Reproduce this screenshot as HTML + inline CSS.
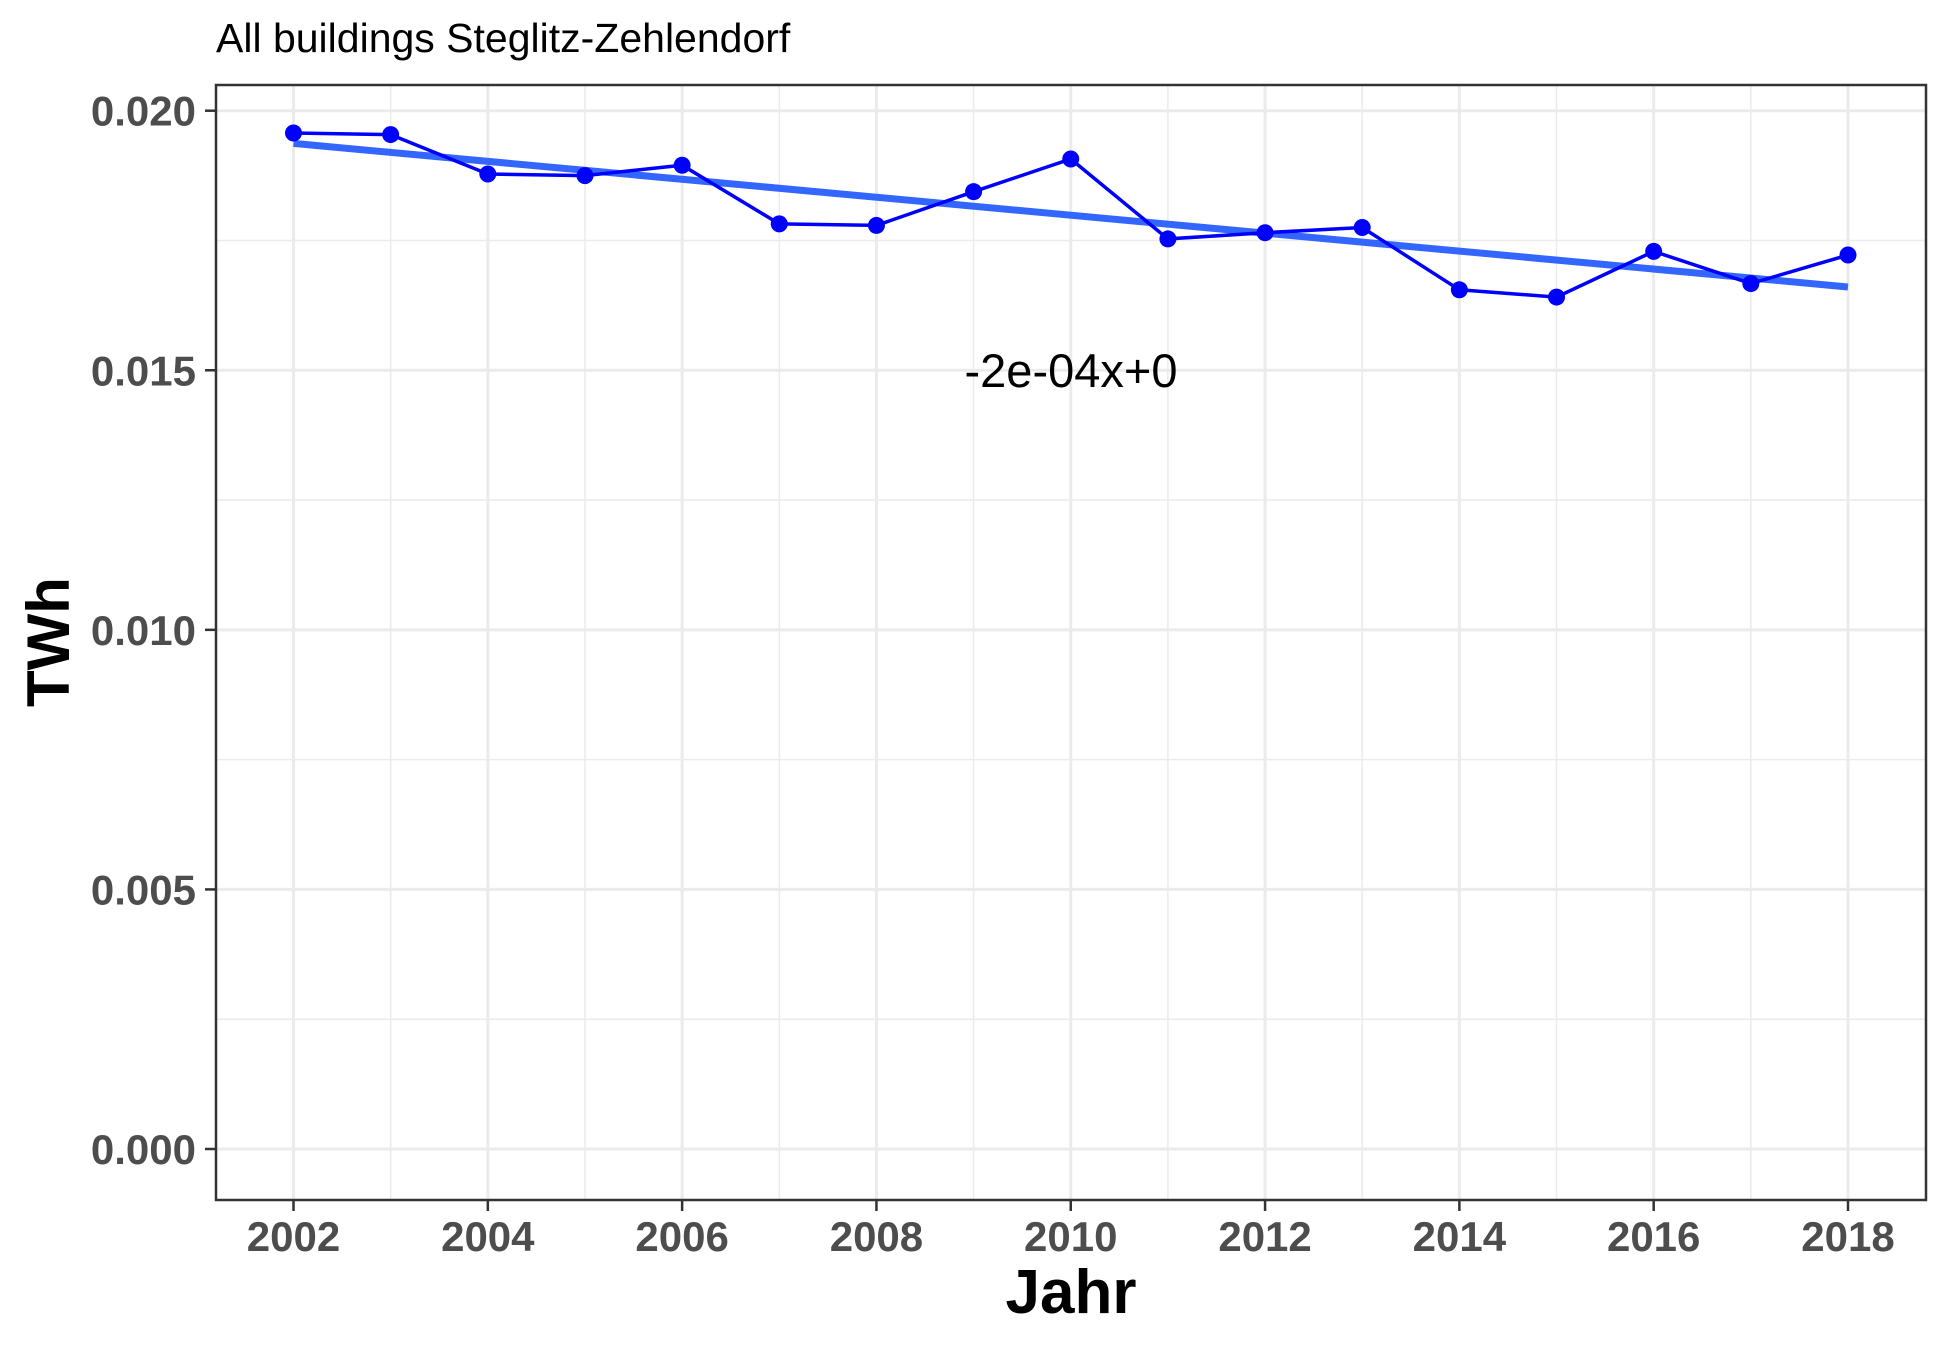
<!DOCTYPE html>
<html><head><meta charset="utf-8"><style>
html,body{margin:0;padding:0;background:#fff;}
svg{display:block;font-family:"Liberation Sans",sans-serif;}
</style></head><body>
<svg id="chart" width="1950" height="1349" viewBox="0 0 1950 1349" xmlns="http://www.w3.org/2000/svg">
<rect width="1950" height="1349" fill="#fff"/>
<g id="grid"></g>
<g id="trend"></g>
<g id="series"></g>
<g id="axes"></g>
<text x="216" y="52" font-size="41" fill="#000">All buildings Steglitz-Zehlendorf</text>
<text x="1071" y="387" font-size="47" text-anchor="middle" fill="#000">-2e-04x+0</text>
<text x="1071" y="1313" font-size="62" font-weight="bold" text-anchor="middle" fill="#000">Jahr</text>
<text transform="translate(69,642) rotate(-90)" font-size="60" font-weight="bold" text-anchor="middle" fill="#000">TWh</text>
</svg>
<script>
const years = [2002,2003,2004,2005,2006,2007,2008,2009,2010,2011,2012,2013,2014,2015,2016,2017,2018];
const values = [0.01957,0.01954,0.01878,0.01875,0.01895,0.01782,0.01779,0.01844,0.01907,0.01753,0.01765,0.01775,0.01655,0.01641,0.01729,0.01667,0.01722];
const yTicks = [0,0.005,0.010,0.015,0.020];
const yTickLabels = ["0.000","0.005","0.010","0.015","0.020"];
const xTicks = [2002,2004,2006,2008,2010,2012,2014,2016,2018];
const xTickLabels = ["2002","2004","2006","2008","2010","2012","2014","2016","2018"];

const NS="http://www.w3.org/2000/svg";
const L=216,R=1926,T=85,B=1200;
function xs(v){return 293.5+(v-2002)*(1848-293.5)/16;}
function ys(v){return 1149-v*(1149-110.7)/0.02;}
function mk(parent,tag,attrs){const e=document.createElementNS(NS,tag);for(const k in attrs)e.setAttribute(k,attrs[k]);document.getElementById(parent).appendChild(e);return e;}

for(let i=0;i<yTicks.length-1;i++){const v=(yTicks[i]+yTicks[i+1])/2;
 const e=mk('grid','line',{x1:L,x2:R,y1:ys(v),y2:ys(v),stroke:'#ebebeb','stroke-width':1.5});
 
 }
for(let i=0;i<xTicks.length-1;i++){const v=(xTicks[i]+xTicks[i+1])/2;
 const e=mk('grid','line',{x1:xs(v),x2:xs(v),y1:T,y2:B,stroke:'#ebebeb','stroke-width':1.5});
 
 }
yTicks.forEach((v,i)=>{
 const g=mk('grid','line',{x1:L,x2:R,y1:ys(v),y2:ys(v),stroke:'#ebebeb','stroke-width':3});
 
 
 const t=mk('axes','line',{x1:L-11,x2:L,y1:ys(v),y2:ys(v),stroke:'#333','stroke-width':2.5});
 
 
 const tx=mk('axes','text',{x:L-20,y:ys(v)+15,'font-size':42,'font-weight':'bold',fill:'#4d4d4d','text-anchor':'end'});
 tx.textContent=yTickLabels[i];
 
 
});
xTicks.forEach((v,i)=>{
 const g=mk('grid','line',{x1:xs(v),x2:xs(v),y1:T,y2:B,stroke:'#ebebeb','stroke-width':3});
 
 
 const t=mk('axes','line',{x1:xs(v),x2:xs(v),y1:B,y2:B+11,stroke:'#333','stroke-width':2.5});
 
 
 const tx=mk('axes','text',{x:xs(v),y:1251,'font-size':42,'font-weight':'bold',fill:'#4d4d4d','text-anchor':'middle'});
 tx.textContent=xTickLabels[i];
 
 
});
const border=mk('axes','rect',{x:L,y:T,width:R-L,height:B-T,fill:'none',stroke:'#333','stroke-width':2.5});



const n=years.length;let mx=0,my=0;years.forEach((x,i)=>{mx+=x;my+=values[i];});mx/=n;my/=n;
let sxy=0,sxx=0;years.forEach((x,i)=>{sxy+=(x-mx)*(values[i]-my);sxx+=(x-mx)*(x-mx);});
const slope=sxy/sxx,icpt=my-slope*mx;
const x0=years[0],x1=years[n-1];
const tl=mk('trend','line',{x1:xs(x0),y1:ys(icpt+slope*x0),x2:xs(x1),y2:ys(icpt+slope*x1),stroke:'#3366ff','stroke-width':7});



const pl=mk('series','polyline',{points:years.map((x,i)=>xs(x)+','+ys(values[i])).join(' '),fill:'none',stroke:'#0000ff','stroke-width':3.5});


years.forEach((x,i)=>{
 const c=mk('series','circle',{cx:xs(x),cy:ys(values[i]),r:8.5,fill:'#0000ff'});
 
 
});
</script>
</body></html>
